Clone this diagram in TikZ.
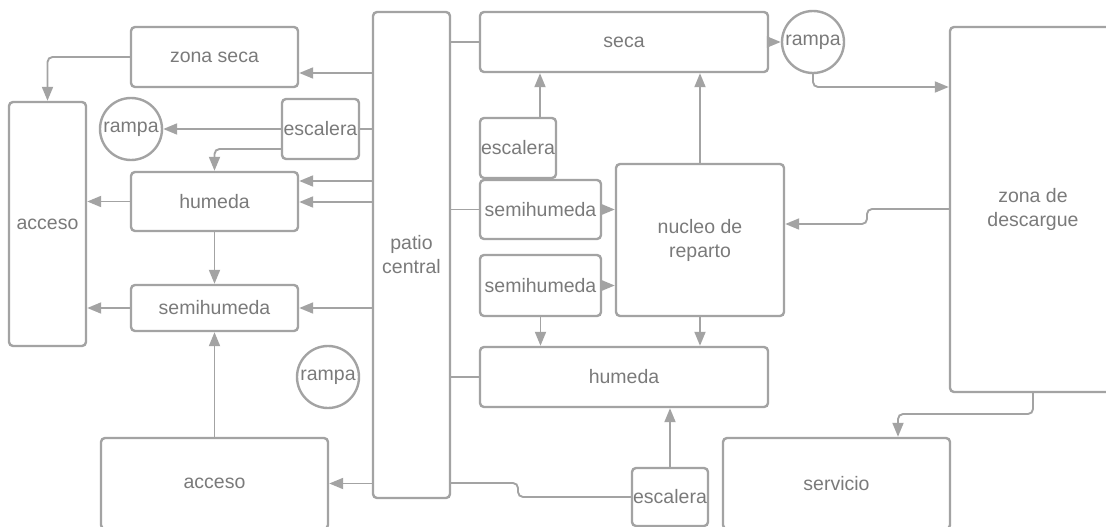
\documentclass[tikz,border=0pt]{standalone}
\usepackage{fontspec}
\setmainfont{Liberation Sans}
\usetikzlibrary{arrows.meta}
\definecolor{ln}{HTML}{A3A3A3}
\definecolor{tx}{HTML}{7A7A7A}
\begin{document}
\begin{tikzpicture}[x=1pt,y=-1pt,
  box/.style={draw=ln,line width=2.4pt,rounded corners=4pt,inner sep=0pt,
    text=tx,font=\fontsize{19.5}{24}\selectfont,align=center},
  ring/.style={draw=ln,line width=2.4pt,circle,inner sep=0pt,minimum size=62pt,
    text=tx,font=\fontsize{19.5}{24}\selectfont},
  arr/.style={draw=ln,line width=1.9pt,-{Triangle[length=14pt,width=11pt]},rounded corners=5pt},
  con/.style={draw=ln,line width=1.9pt,rounded corners=5pt}]
\useasboundingbox (0,0) rectangle (1106,527);
\clip (0,0) rectangle (1106,527);
% left side
\node[box,minimum width=167pt,minimum height=60pt] (zonaseca) at (214.5,57) {zona seca};
\node[box,minimum width=77pt,minimum height=244pt] (accesoL) at (47.5,224) {acceso};
\node[ring] (rampaL) at (131,129) {rampa};
\node[box,minimum width=77pt,minimum height=60pt] (escaleraL) at (320.5,129) {escalera};
\node[box,minimum width=167pt,minimum height=59pt] (humedaL) at (214.5,201.5) {humeda};
\node[box,minimum width=167pt,minimum height=46pt] (semihumedaL) at (214.5,308) {semihumeda};
\node[ring] (rampaM) at (328,377) {rampa};
\node[box,minimum width=227pt,minimum height=91pt] (accesoB) at (214.5,483.5) {acceso};
% centre
\node[box,minimum width=77pt,minimum height=486pt] (patio) at (411.5,255) {patio\\central};
\node[box,minimum width=288pt,minimum height=60pt] (seca) at (624,42) {seca};
\node[box,minimum width=76pt,minimum height=60pt] (escaleraM) at (518,148) {escalera};
\node[box,minimum width=121pt,minimum height=59pt] (semi1) at (540.5,209.5) {semihumeda};
\node[box,minimum width=168pt,minimum height=152pt] (nucleo) at (700,240) {nucleo de\\reparto};
\node[box,minimum width=121pt,minimum height=61pt] (semi2) at (540.5,285.5) {semihumeda};
\node[box,minimum width=288pt,minimum height=60pt] (humedaR) at (624,377) {humeda};
\node[box,minimum width=76pt,minimum height=58pt] (escaleraB) at (670,497) {escalera};
% right
\node[ring] (rampaR) at (813,42) {rampa};
\node[box,minimum width=166pt,minimum height=365pt] (descargue) at (1033,209.5) {zona de\\descargue};
\node[box,minimum width=227pt,minimum height=91pt] (servicio) at (836.5,483.5) {servicio};
% connectors left
\draw[arr] (patio.west |- 0,73) -- (zonaseca.east |- 0,73);
\draw[con] (patio.west |- 0,129) -- (escaleraL.east |- 0,129);
\draw[arr] (escaleraL.west |- 0,129) -- (rampaL.east);
\draw[arr] (escaleraL.west |- 0,149) -| (humedaL.north);
\draw[arr] (patio.west |- 0,181) -- (humedaL.east |- 0,181);
\draw[arr] (patio.west |- 0,202) -- (humedaL.east |- 0,202);
\draw[arr] (humedaL.west) -- (accesoL.east |- humedaL.west);
\draw[arr] (zonaseca.west) -| (accesoL.north);
\draw[arr] (humedaL.south) -- (semihumedaL.north);
\draw[arr] (semihumedaL.west) -- (accesoL.east |- semihumedaL.west);
\draw[arr] (patio.west |- semihumedaL.east) -- (semihumedaL.east);
\draw[arr] (accesoB.north) -- (semihumedaL.south);
\draw[arr] (patio.west |- accesoB.east) -- (accesoB.east);
% connectors centre
\draw[con] (patio.east |- seca.west) -- (seca.west);
\draw[arr] (seca.east) -- (rampaR.west);
\draw[arr] (escaleraM.north -| 540,0) -- (seca.south -| 540,0);
\draw[con] (patio.east |- semi1.west) -- (semi1.west);
\draw[arr] (semi1.east) -- (nucleo.west |- semi1.east);
\draw[arr] (nucleo.north) -- (seca.south -| nucleo.north);
\draw[arr] (semi2.east) -- (nucleo.west |- semi2.east);
\draw[arr] (semi2.south) -- (humedaR.north -| semi2.south);
\draw[arr] (nucleo.south) -- (humedaR.north -| nucleo.south);
\draw[con] (patio.east |- humedaR.west) -- (humedaR.west);
\draw[arr] (escaleraB.north) -- (humedaR.south -| escaleraB.north);
\draw[con] (patio.east |- 0,483) -- (518,483) -- (518,497) -- (escaleraB.west);
% connectors right
\draw[arr] (rampaR.south) |- (descargue.west |- 0,87);
\draw[arr] (descargue.west |- 0,209) -- (867,209) -- (867,224) -- (nucleo.east |- 0,224);
\draw[arr] (descargue.south) |- (898,414) -- (servicio.north -| 898,0);
\end{tikzpicture}
\end{document}
